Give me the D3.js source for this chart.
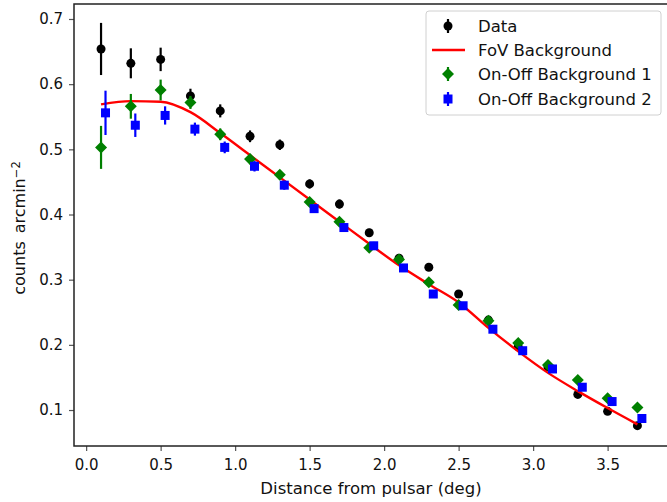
<!DOCTYPE html>
<html><head><meta charset="utf-8">
<script src="https://cdn.jsdelivr.net/npm/d3@7"></script>
<style>body{margin:0;background:#fff}svg{display:block}text{font-family:"DejaVu Sans",sans-serif}</style>
</head><body><svg id="c" width="667" height="502"></svg>
<script>
const distances = [0.1,0.3,0.5,0.7,0.9,1.1,1.3,1.5,1.7,1.9,2.1,2.3,2.5,2.7,2.9,3.1,3.3,3.5,3.7];
const onoff2Distances = [0.13,0.33,0.53,0.73,0.93,1.13,1.33,1.53,1.73,1.93,2.13,2.33,2.53,2.73,2.93,3.13,3.33,3.53,3.73];
const dataValues = [0.654,0.632,0.638,0.582,0.559,0.520,0.507,0.447,0.416,0.372,0.333,0.319,0.278,0.238,0.197,0.166,0.124,0.098,0.076];
const dataErrors = [0.040,0.023,0.018,0.011,0.010,0.009,0.008,0.007,0.007,0.006,0.006,0.005,0.005,0.005,0.005,0.004,0.004,0.004,0.004];
const fovValues = [0.569,0.574,0.573,0.557,0.525,0.491,0.457,0.423,0.389,0.355,0.322,0.293,0.265,0.226,0.190,0.157,0.129,0.103,0.078];
const onoff1Values = [0.503,0.566,0.591,0.572,0.523,0.485,0.461,0.419,0.389,0.349,0.331,0.296,0.261,0.237,0.203,0.169,0.146,0.118,0.104];
const onoff1Errors = [0.033,0.019,0.016,0.010,0.009,0.008,0.007,0.006,0.006,0.006,0.005,0.005,0.005,0.004,0.004,0.004,0.004,0.004,0.004];
const onoff2Values = [0.556,0.537,0.552,0.531,0.503,0.474,0.445,0.409,0.380,0.352,0.318,0.278,0.260,0.224,0.191,0.163,0.135,0.113,0.087];
const onoff2Errors = [0.034,0.018,0.014,0.010,0.009,0.008,0.007,0.006,0.006,0.006,0.005,0.005,0.005,0.004,0.004,0.004,0.004,0.004,0.004];
const xTicks = [0.0,0.5,1.0,1.5,2.0,2.5,3.0,3.5];
const yTicks = [0.1,0.2,0.3,0.4,0.5,0.6,0.7];
const seriesNames = ["Data","FoV Background","On-Off Background 1","On-Off Background 2"];
const xLabel = "Distance from pulsar (deg)";

const svg = d3.select("#c");
const L = 74, R = 669, T = 4, B = 446;
const x = d3.scaleLinear().domain([-0.0815, 3.912]).range([L, R]);
const y = d3.scaleLinear().domain([0.0448, 0.723]).range([B, T]);

// axes
const xAxis = d3.axisBottom(x).tickValues(xTicks).tickFormat(d3.format(".1f")).tickSize(5).tickPadding(5);
const gx = svg.append("g").attr("transform", `translate(0,${B})`).call(xAxis);
const yAxis = d3.axisLeft(y).tickValues(yTicks).tickFormat(d3.format(".1f")).tickSize(5).tickPadding(6);
const gy = svg.append("g").attr("transform", `translate(${L},0)`).call(yAxis);
[gx, gy].forEach(g => {
  g.select(".domain").remove();
  g.selectAll(".tick line").attr("stroke", "#555").attr("stroke-width", 1.2);
  g.selectAll(".tick text").attr("fill", "#111").style("font-size", "15px").style("font-family", "DejaVu Sans");
});
gx.selectAll(".tick text").attr("dy", "0.9em");
// frame
svg.append("rect").attr("x", L).attr("y", T).attr("width", R - L).attr("height", B - T)
  .attr("fill", "none").attr("stroke", "#222").attr("stroke-width", 1.5);

svg.append("text").attr("x", 371).attr("y", 494).attr("text-anchor", "middle")
  .style("font-size", "16.5px").attr("fill", "#111").text(xLabel);
const yl = svg.append("text").attr("transform", "translate(25,228) rotate(-90)").attr("text-anchor", "middle")
  .style("font-size", "16px").attr("fill", "#111");
yl.append("tspan").text("counts\u2002arcmin");
yl.append("tspan").attr("dy", "-0.45em").style("font-size", "11.5px").text("\u22122");

const plot = svg.append("g");

function errorBars(xs, vals, errs, color) {
  plot.append("g").selectAll("line").data(vals).join("line")
    .attr("x1", (d, i) => x(xs[i])).attr("x2", (d, i) => x(xs[i]))
    .attr("y1", (d, i) => y(d - errs[i])).attr("y2", (d, i) => y(d + errs[i]))
    .attr("stroke", color).attr("stroke-width", 2.2);
}

// Data
errorBars(distances, dataValues, dataErrors, "#000");
plot.append("g").selectAll("circle").data(dataValues).join("circle")
  .attr("cx", (d, i) => x(distances[i])).attr("cy", d => y(d)).attr("r", 4.5).attr("fill", "#000");

// FoV line
plot.append("path").datum(fovValues)
  .attr("d", d3.line().x((d, i) => x(distances[i])).y(d => y(d)).curve(d3.curveMonotoneX))
  .attr("fill", "none").attr("stroke", "#ff0000").attr("stroke-width", 2.4);

// On-Off 1
errorBars(distances, onoff1Values, onoff1Errors, "#008000");
const diamond = s => `M0,${-s}L${s},0L0,${s}L${-s},0Z`;
plot.append("g").selectAll("path").data(onoff1Values).join("path")
  .attr("transform", (d, i) => `translate(${x(distances[i])},${y(d)})`)
  .attr("d", diamond(6)).attr("fill", "#008000");

// On-Off 2
errorBars(onoff2Distances, onoff2Values, onoff2Errors, "#0000ff");
plot.append("g").selectAll("rect").data(onoff2Values).join("rect")
  .attr("x", (d, i) => x(onoff2Distances[i]) - 4.5).attr("y", d => y(d) - 4.5)
  .attr("width", 9).attr("height", 9).attr("fill", "#0000ff");

// legend
const lg = svg.append("g");
lg.append("rect").attr("x", 426).attr("y", 11).attr("width", 235).attr("height", 104).attr("rx", 3)
  .attr("fill", "#fff").attr("fill-opacity", 0.85).attr("stroke", "#d0d0d0").attr("stroke-width", 1);
const rows = [26, 50, 74, 99];
const colors = ["#000", "#ff0000", "#008000", "#0000ff"];
seriesNames.forEach((name, i) => {
  const cy = rows[i], cx = 448;
  if (i === 1) {
    lg.append("line").attr("x1", 432).attr("x2", 465).attr("y1", cy).attr("y2", cy)
      .attr("stroke", colors[i]).attr("stroke-width", 2.4);
  } else {
    lg.append("line").attr("x1", cx).attr("x2", cx).attr("y1", cy - 7).attr("y2", cy + 7)
      .attr("stroke", colors[i]).attr("stroke-width", 2.2);
    if (i === 0) lg.append("circle").attr("cx", cx).attr("cy", cy).attr("r", 4.5).attr("fill", colors[i]);
    if (i === 2) lg.append("path").attr("transform", `translate(${cx},${cy})`).attr("d", diamond(6)).attr("fill", colors[i]);
    if (i === 3) lg.append("rect").attr("x", cx - 4.5).attr("y", cy - 4.5).attr("width", 9).attr("height", 9).attr("fill", colors[i]);
  }
  lg.append("text").attr("x", 478).attr("y", cy).attr("dy", "0.35em").style("font-size", "16.5px")
    .attr("fill", "#111").text(name);
});
</script></body></html>
